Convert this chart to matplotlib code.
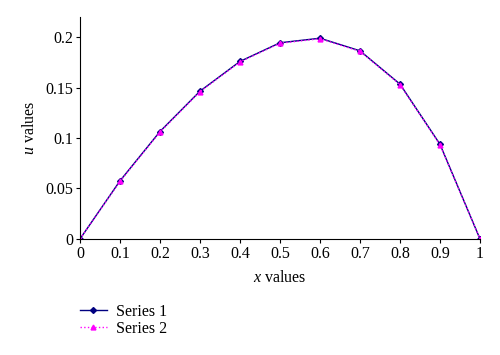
import numpy as np
import matplotlib.pyplot as plt

# data
x_vals = [0, 0.1, 0.2, 0.3, 0.4, 0.5, 0.6, 0.7, 0.8, 0.9, 1.0]
series1 = [0, 0.0576, 0.1065, 0.1465, 0.1760, 0.1945, 0.1990, 0.1865, 0.1535, 0.0938, 0]
series2 = [0, 0.0570, 0.1060, 0.1460, 0.1755, 0.1940, 0.1985, 0.1860, 0.1530, 0.0932, 0]
x_labels = ['0', '0.1', '0.2', '0.3', '0.4', '0.5', '0.6', '0.7', '0.8', '0.9', '1']
y_ticks = [0, 0.05, 0.1, 0.15, 0.2]
y_labels = ['0', '0.05', '0.1', '0.15', '0.2']

plt.rcParams['font.family'] = ['Liberation Serif', 'DejaVu Serif']
plt.rcParams['font.size'] = 11.5
plt.rcParams['mathtext.fontset'] = 'custom'
plt.rcParams['mathtext.it'] = 'Liberation Serif:italic'
plt.rcParams['mathtext.rm'] = 'Liberation Serif'

fig = plt.figure(figsize=(5, 3.55), dpi=100)
ax = fig.add_axes([0.16, 0.327, 0.80, 0.625])

ax.plot(x_vals, series1, color='#000080', marker='D', markersize=3, linewidth=1.0, label='Series 1')
ax.plot(x_vals, series2, color='#ff00ff', marker='^', markersize=3.5, linewidth=1.0,
        linestyle=':', label='Series 2')

ax.set_xlim(0, 1)
ax.set_ylim(0, 0.22)
ax.set_xticks(x_vals)
ax.set_xticklabels(x_labels)
ax.set_yticks(y_ticks)
ax.set_yticklabels(y_labels)
ax.spines['top'].set_visible(False)
ax.spines['right'].set_visible(False)
ax.tick_params(direction='out', length=3, width=0.8, pad=2)
ax.set_xlabel('$x$ values', labelpad=6)
ax.set_ylabel('$u$ values', labelpad=5)

fig.legend(loc='upper left', bbox_to_anchor=(0.137, 0.175), frameon=False,
           handlelength=1.7, handletextpad=0.6, labelspacing=0.05, borderpad=0.2)

plt.savefig('out.png')
